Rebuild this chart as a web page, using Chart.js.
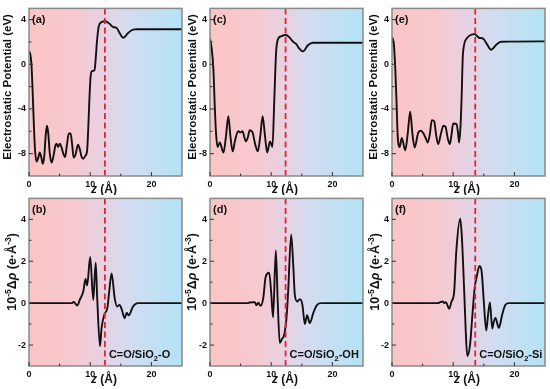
<!DOCTYPE html>
<html>
<head>
<meta charset="utf-8">
<script src="https://cdn.jsdelivr.net/npm/chart.js@4.4.0/dist/chart.umd.min.js"></script>
<style>
  body { margin: 0; background: #fff; }
  #wrap { position: relative; width: 550px; height: 389px; overflow: hidden; }
  canvas { position: absolute; }
</style>
</head>
<body>
<div id="wrap">
  <canvas id="pa" width="185" height="195" style="left:0px;top:0px"></canvas>
  <canvas id="pc" width="185" height="195" style="left:181px;top:0px"></canvas>
  <canvas id="pe" width="185" height="195" style="left:363px;top:0px"></canvas>
  <canvas id="pb" width="185" height="199" style="left:0px;top:190px"></canvas>
  <canvas id="pd" width="185" height="199" style="left:181px;top:190px"></canvas>
  <canvas id="pf" width="185" height="199" style="left:363px;top:190px"></canvas>
</div>
<script>
const fam = 'Arial, "Liberation Sans", sans-serif';

// tick values
const zTicks = [0, 10, 20];
const zMinor = [5, 15];
const potTicks = [-8, -4, 0, 4];
const potMinor = [-6, -2, 2];
const rhoTicks = [-2, 0, 2, 4];
const rhoMinor = [-1, 1, 3];

// (a) C=O/SiO2-O  electrostatic potential (eV)
const zA = [0,0.2,0.4,0.6,0.8,1.0,1.25,1.5,1.75,2.0,2.25,2.5,2.75,2.95,3.15,3.4,3.7,4.0,4.3,4.5,4.75,5.05,5.3,5.6,5.9,6.2,6.5,6.8,7.05,7.3,7.6,8.0,8.3,8.6,8.85,9.2,9.5,9.7,9.85,10.05,10.3,10.7,10.9,11.1,11.4,11.8,12.5,13.2,13.75,14.3,14.7,15.4,16.2,17.0,17.6,25];
const potA = [1.2,0.9,0,-2.5,-5.5,-7.8,-8.7,-8.4,-7.9,-8.3,-8.9,-8.2,-6.2,-5.5,-6.2,-8.0,-8.8,-8.2,-7.3,-7.1,-7.4,-7.1,-7.4,-8.0,-8.3,-7.2,-6.2,-6.2,-7.2,-8.35,-8.1,-7.2,-7.6,-8.3,-8.45,-8.2,-7.7,-5.5,-3.4,-1.2,-0.6,-0.55,0.5,2.0,3.4,3.75,3.85,3.6,3.33,3.27,2.9,2.37,2.8,3.1,3.13,3.13];

// (c) C=O/SiO2-OH
const zC = [0,0.25,0.55,0.8,1.0,1.25,1.6,2.2,2.6,3.0,3.35,3.7,4.1,4.6,5.0,5.3,5.85,6.15,6.5,6.95,7.4,7.8,8.2,8.6,9.0,9.35,9.8,10.2,10.5,10.8,11.1,11.6,12.4,13.0,13.6,14.1,14.6,15.2,16.0,16.8,25];
const potC = [2.3,1.5,-0.4,-4.0,-6.3,-7.4,-7.0,-7.9,-6.5,-4.65,-6.5,-7.8,-6.8,-6.0,-6.1,-6.0,-6.9,-6.6,-5.9,-6.1,-7.2,-7.8,-6.5,-4.65,-6.5,-7.9,-6.9,-7.4,-3.3,1.07,2.24,2.5,2.62,2.4,2.0,1.8,1.4,1.15,1.7,1.92,1.92];

// (e) C=O/SiO2-Si
const zE = [0,0.3,0.54,0.75,0.92,1.24,1.6,2.16,2.55,2.97,3.35,3.7,4.3,4.75,5.1,5.5,5.85,6.2,6.5,6.9,7.2,7.55,8.0,8.4,8.75,9.1,9.45,9.7,10.0,10.55,10.8,10.97,11.2,11.35,11.6,12.2,13.5,14.2,14.9,15.5,16.2,17.0,17.8,25];
const potE = [2.45,1.8,-0.46,-3.5,-6.3,-7.4,-6.6,-7.7,-6.3,-4.25,-6.3,-7.45,-6.1,-5.95,-6.15,-6.6,-7.0,-6.2,-5.0,-5.1,-6.3,-7.15,-6.2,-5.5,-5.6,-6.6,-7.15,-6.4,-5.3,-5.35,-6.2,-7.0,-5.5,-3.4,1.0,2.3,2.7,2.37,2.3,1.8,1.3,1.73,2.02,2.05];

// (b) charge density difference, 10^-5 e/A^3
const zB = [0,7.0,7.3,7.9,8.3,8.86,9.24,9.5,10.0,10.5,10.9,11.15,11.6,11.85,12.3,12.8,13.1,13.5,14.0,14.4,14.8,15.1,15.65,15.95,16.3,17.0,17.8,25];
const rhoB = [0,0,0.06,-0.11,0.16,0.55,1.15,0.84,2.2,0.16,1.93,0.2,-2.05,-1.2,-0.55,-0.24,0.55,1.42,0.24,-0.16,-0.08,-0.25,-0.72,-0.45,-0.58,-0.16,0,0];

// (d)
const zD = [0,6.0,6.5,7.3,7.6,7.9,8.26,8.7,9.1,9.67,10.0,10.3,10.76,11.05,11.4,11.85,12.06,12.5,12.77,13.26,13.6,13.86,14.24,14.7,15.1,15.5,15.87,16.3,16.9,17.5,18.2,25];
const rhoD = [0,0,0.03,0.05,-0.1,0.02,-0.13,0.24,1.26,1.45,0.5,-0.68,2.52,0.2,-1.9,-1.66,-1.58,-0.71,0.55,3.27,1.82,0.39,0.08,0.19,-0.08,-1.0,-0.58,-0.95,-0.45,-0.08,0,0];

// (f)
const zF = [0,7.46,7.9,8.3,8.55,8.8,9.35,9.73,10.16,10.5,11.14,11.4,11.8,12.05,12.3,12.76,13.1,13.5,13.84,14.3,14.65,15.0,15.4,15.7,16.0,16.38,16.65,16.9,17.46,18.0,18.54,19.1,25];
const rhoF = [0,0,0.05,0.08,0,0.05,-0.27,0.08,0.55,2.45,4.03,3.24,0.55,-1.34,-2.53,-1.97,-0.71,0.71,1.26,1.77,1.5,0.08,-1.31,-0.55,0.03,-1.21,-0.87,-0.71,-1.18,-0.55,-0.08,0,0];

// interface positions (red dashed line)
const dashA = 12.4, dashC = 12.35, dashE = 13.6;

const panels = [
  {id: 'pa', tag: '(a)', z: zA, v: potA, dash: dashA, kind: 'pot', titleX: -20.7},
  {id: 'pc', tag: '(c)', z: zC, v: potC, dash: dashC, kind: 'pot', titleX: -16.7},
  {id: 'pe', tag: '(e)', z: zE, v: potE, dash: dashE, kind: 'pot', titleX: -18},
  {id: 'pb', tag: '(b)', z: zB, v: rhoB, dash: dashA, kind: 'rho', titleX: -18, sys: 'O'},
  {id: 'pd', tag: '(d)', z: zD, v: rhoD, dash: dashC, kind: 'rho', titleX: -18.3, sys: 'OH'},
  {id: 'pf', tag: '(f)', z: zF, v: rhoF, dash: dashE, kind: 'rho', titleX: -17.3, sys: 'Si'}
];

function drawPieces(ctx, pieces, x, y) {
  // pieces drawn left to right starting at x, baseline y
  let cx = x;
  pieces.forEach(p => {
    ctx.font = p.f;
    ctx.fillText(p.t, cx, y + (p.dy || 0));
    cx += ctx.measureText(p.t).width;
  });
}
function piecesWidth(ctx, pieces) {
  let w = 0;
  pieces.forEach(p => { ctx.font = p.f; w += ctx.measureText(p.t).width; });
  return w;
}

const decor = {
  id: 'decor',
  beforeDraw(chart, args, o) {
    const {ctx, chartArea: a} = chart;
    const g = ctx.createLinearGradient(a.left, 0, a.right, 0);
    g.addColorStop(0, '#fbc5c5');
    g.addColorStop(0.3, '#f7c9cf');
    g.addColorStop(0.5, '#e6d2e4');
    g.addColorStop(0.65, '#d3dcf0');
    g.addColorStop(1, '#b3e3f6');
    ctx.save();
    ctx.fillStyle = g;
    ctx.fillRect(a.left, a.top, a.width, a.height);
    ctx.restore();
  },
  afterDatasetsDraw(chart, args, o) {
    const {ctx, chartArea: a, scales: {x, y}} = chart;
    const isPot = o.kind === 'pot';
    ctx.save();

    // interface line
    const px = x.getPixelForValue(o.dash);
    ctx.strokeStyle = '#e3262d';
    ctx.lineWidth = 1.8;
    ctx.setLineDash([6, 3.5]);
    ctx.beginPath();
    ctx.moveTo(px, a.top);
    ctx.lineTo(px, a.bottom);
    ctx.stroke();
    ctx.setLineDash([]);

    // frame
    ctx.strokeStyle = '#8a8a8a';
    ctx.lineWidth = 1.5;
    ctx.strokeRect(a.left, a.top, a.width, a.height);

    // inward ticks
    ctx.strokeStyle = '#333';
    ctx.lineWidth = 1;
    ctx.beginPath();
    zTicks.forEach(v => { const t = x.getPixelForValue(v); ctx.moveTo(t, a.bottom); ctx.lineTo(t, a.bottom - 4); });
    zMinor.forEach(v => { const t = x.getPixelForValue(v); ctx.moveTo(t, a.bottom); ctx.lineTo(t, a.bottom - 2.5); });
    (isPot ? potTicks : rhoTicks).forEach(v => { const t = y.getPixelForValue(v); ctx.moveTo(a.left, t); ctx.lineTo(a.left + 4, t); });
    (isPot ? potMinor : rhoMinor).forEach(v => { const t = y.getPixelForValue(v); ctx.moveTo(a.left, t); ctx.lineTo(a.left + 2.5, t); });
    ctx.stroke();

    ctx.fillStyle = '#111';
    ctx.textBaseline = 'alphabetic';

    // panel tag
    ctx.font = 'bold 11px ' + fam;
    ctx.textAlign = 'left';
    ctx.fillText(o.tag, a.left + 3, a.top + 15);

    // x title: z (Å)
    const xt = [
      {t: 'z', f: 'italic bold 12px ' + fam},
      {t: ' (Å)', f: 'bold 12px ' + fam}
    ];
    const xw = piecesWidth(ctx, xt);
    drawPieces(ctx, xt, a.left + 75 - xw / 2, a.bottom + 17);

    // y title
    ctx.save();
    if (isPot) {
      ctx.translate(a.left + o.titleX, a.top + 78.5);
      ctx.rotate(-Math.PI / 2);
      ctx.font = 'bold 11.5px ' + fam;
      ctx.textAlign = 'center';
      ctx.textBaseline = 'middle';
      ctx.fillText('Electrostatic Potential (eV)', 0, 0);
    } else {
      ctx.translate(a.left + o.titleX, a.top + 73.5);
      ctx.rotate(-Math.PI / 2);
      const big = 'bold 12.5px ' + fam, sm = 'bold 8.5px ' + fam;
      const yt = [
        {t: '10', f: big}, {t: '-5', f: sm, dy: -5}, {t: 'Δ', f: big},
        {t: 'ρ', f: 'italic bold 12.5px ' + fam}, {t: ' (e·Å', f: big},
        {t: '-3', f: sm, dy: -5}, {t: ')', f: big}
      ];
      ctx.textAlign = 'left';
      const w = piecesWidth(ctx, yt);
      drawPieces(ctx, yt, -w / 2, 4.5);
    }
    ctx.restore();

    // system label
    if (o.sys) {
      const big = 'bold 11px ' + fam;
      const sl = [
        {t: 'C=O/SiO', f: big}, {t: '2', f: 'bold 7.5px ' + fam, dy: 3}, {t: '-' + o.sys, f: big}
      ];
      ctx.textAlign = 'left';
      drawPieces(ctx, sl, px + 4, a.bottom - 8);
    }
    ctx.restore();
  }
};

function makePanel(p) {
  const isPot = p.kind === 'pot';
  const tickFont = {family: fam, size: 9, weight: 'bold'};
  return new Chart(document.getElementById(p.id), {
    type: 'line',
    data: {
      datasets: [{
        data: p.z.map((z, i) => ({x: z, y: p.v[i]})),
        borderColor: '#111',
        borderWidth: 1.9,
        pointRadius: 0,
        cubicInterpolationMode: 'monotone',
        fill: false
      }]
    },
    options: {
      responsive: false,
      animation: false,
      events: [],
      layout: {padding: {top: 5, right: 3, left: 0, bottom: 0}},
      plugins: {
        legend: {display: false},
        tooltip: {enabled: false},
        decor: {kind: p.kind, tag: p.tag, dash: p.dash, titleX: p.titleX, sys: p.sys || ''}
      },
      scales: {
        x: {
          type: 'linear', min: 0, max: 25,
          afterBuildTicks: s => { s.ticks = zTicks.map(v => ({value: v})); },
          afterFit: s => { s.height = isPot ? 19 : 23; },
          grid: {display: false, drawTicks: false},
          border: {display: false},
          ticks: {font: tickFont, color: '#111', padding: 3, maxRotation: 0}
        },
        y: {
          type: 'linear',
          min: isPot ? -10 : -3,
          max: 5,
          afterBuildTicks: s => { s.ticks = (isPot ? potTicks : rhoTicks).map(v => ({value: v})); },
          afterFit: s => { s.width = 29; },
          grid: {display: false, drawTicks: false},
          border: {display: false},
          ticks: {font: tickFont, color: '#111', padding: 3}
        }
      }
    },
    plugins: [decor]
  });
}

panels.forEach(makePanel);
</script>
</body>
</html>
